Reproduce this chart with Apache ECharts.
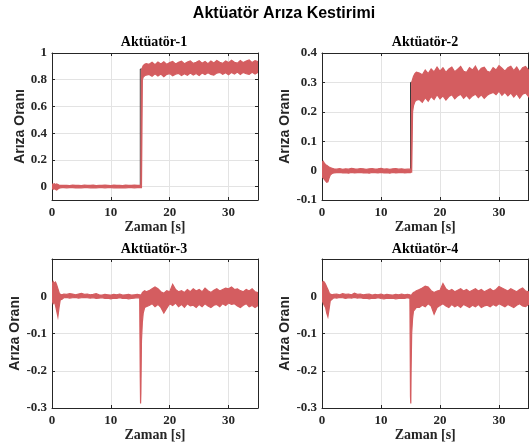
<!DOCTYPE html>
<html>
<head>
<meta charset="utf-8">
<script src="https://cdn.jsdelivr.net/npm/echarts@6/dist/echarts.min.js"></script>
<style>html,body{margin:0;padding:0;background:#fff}#c{width:529px;height:446px}</style>
</head>
<body>
<div id="c"></div>
<script>
// ---------- data ----------
const time = [0,0.2,0.4,0.6,0.8,1,1.2,1.4,1.7,2,2.5,3,3.5,4,4.5,5,5.5,6,6.5,7,7.5,8,8.5,9,9.5,10,10.5,11,11.5,12,12.5,13,13.5,14,14.5,14.9,15,15.05,15.1,15.2,15.35,15.5,15.75,16,16.5,17,17.5,18,18.5,19,19.5,20,20.5,21,21.5,22,22.5,23,23.5,24,24.5,25,25.5,26,26.5,27,27.5,28,28.5,29,29.5,30,30.5,31,31.5,32,32.5,33,33.5,34,34.5,35];

const a1Upper = [0.02,0.018,0.022,0.015,0.02,0.016,0.012,0.01,0.009,
  0.009,0.01,0.008,0.011,0.009,0.01,0.008,0.012,0.009,0.01,0.011,0.008,0.01,0.009,0.012,0.01,0.008,0.011,0.009,0.01,0.008,0.011,0.009,0.01,0.012,0.009,
  0.01,0.01,0.01,0.01,0.87,0.89,0.905,0.915,0.92,
  0.915,0.93,0.912,0.932,0.918,0.935,0.915,0.928,0.936,0.918,0.93,0.938,0.92,0.932,0.94,0.922,0.93,0.942,0.924,0.936,0.92,0.94,0.926,0.944,0.93,0.922,0.94,0.928,0.946,0.93,0.924,0.944,0.928,0.94,0.948,0.928,0.942,0.935];
const a1Lower = [-0.015,-0.02,-0.016,-0.022,-0.025,-0.018,-0.012,-0.009,-0.008,
  -0.008,-0.009,-0.007,-0.008,-0.01,-0.008,-0.009,-0.007,-0.008,-0.009,-0.008,-0.01,-0.007,-0.008,-0.009,-0.008,-0.007,-0.009,-0.008,-0.01,-0.008,-0.009,-0.007,-0.008,-0.009,-0.008,
  -0.008,-0.008,-0.008,-0.008,-0.008,0.80,0.82,0.83,0.835,
  0.84,0.826,0.845,0.828,0.842,0.822,0.84,0.846,0.83,0.842,0.848,0.832,0.845,0.834,0.85,0.835,0.846,0.832,0.85,0.838,0.852,0.84,0.834,0.85,0.855,0.84,0.852,0.838,0.855,0.842,0.858,0.84,0.855,0.845,0.84,0.856,0.842,0.855];

const a2Upper = [0.028,0.032,0.025,0.02,0.018,0.015,0.012,0.01,0.008,
  0.006,0.005,0.007,0.004,0.006,0.005,0.008,0.006,0.005,0.007,0.006,0.004,0.006,0.007,0.005,0.006,0.008,0.005,0.006,0.004,0.006,0.007,0.005,0.006,0.004,0.005,
  0.005,0.005,0.005,0.006,0.30,0.31,0.32,0.33,0.335,
  0.332,0.326,0.342,0.33,0.346,0.336,0.352,0.338,0.35,0.334,0.346,0.352,0.336,0.345,0.354,0.338,0.334,0.35,0.342,0.355,0.336,0.348,0.352,0.338,0.334,0.35,0.342,0.357,0.348,0.338,0.35,0.355,0.34,0.352,0.336,0.35,0.354,0.342];
const a2Lower = [-0.02,-0.025,-0.03,-0.035,-0.04,-0.038,-0.025,-0.015,-0.01,
  -0.008,-0.007,-0.006,-0.008,-0.007,-0.009,-0.006,-0.008,-0.007,-0.006,-0.008,-0.007,-0.009,-0.006,-0.007,-0.008,-0.006,-0.008,-0.007,-0.009,-0.006,-0.008,-0.007,-0.006,-0.008,-0.007,
  -0.007,-0.007,-0.006,-0.005,-0.005,0.20,0.22,0.235,0.24,
  0.242,0.232,0.248,0.236,0.252,0.242,0.258,0.244,0.254,0.24,0.252,0.258,0.244,0.254,0.26,0.246,0.256,0.244,0.254,0.26,0.248,0.258,0.246,0.256,0.262,0.266,0.258,0.27,0.256,0.266,0.254,0.264,0.25,0.262,0.246,0.26,0.264,0.252];

const a3Upper = [0.03,0.04,0.035,0.038,0.03,0.02,0.01,0.005,0.004,
  0.006,0.005,0.007,0.006,0.004,0.006,0.008,0.005,0.006,0.004,0.005,0.007,0.004,0.003,0.005,0.004,0.003,0.005,0.004,0.006,0.003,0.004,0.005,0.003,0.004,0.005,
  0.004,0.004,0.002,0.0,0.005,0.01,0.012,0.015,0.012,
  0.015,0.02,0.025,0.02,0.012,0.008,0.015,0.012,0.032,0.018,0.012,0.015,0.01,0.018,0.012,0.02,0.014,0.018,0.012,0.022,0.015,0.01,0.016,0.02,0.014,0.018,0.022,0.02,0.025,0.018,0.02,0.015,0.012,0.018,0.014,0.02,0.012,0.01];
const a3Lower = [-0.01,-0.02,-0.015,-0.025,-0.04,-0.055,-0.03,-0.01,-0.008,
  -0.004,-0.003,-0.005,-0.004,-0.003,-0.005,-0.004,-0.003,-0.004,-0.005,-0.004,-0.006,-0.005,-0.004,-0.006,-0.005,-0.007,-0.005,-0.006,-0.004,-0.006,-0.005,-0.007,-0.006,-0.005,-0.004,
  -0.005,-0.22,-0.288,-0.26,-0.12,-0.07,-0.045,-0.03,-0.028,
  -0.025,-0.02,-0.028,-0.022,-0.03,-0.045,-0.032,-0.02,-0.025,-0.018,-0.028,-0.022,-0.03,-0.02,-0.026,-0.024,-0.03,-0.022,-0.028,-0.02,-0.026,-0.03,-0.024,-0.022,-0.028,-0.02,-0.025,-0.018,-0.022,-0.02,-0.026,-0.03,-0.024,-0.02,-0.028,-0.025,-0.03,-0.025];

const a4Upper = [0.035,0.04,0.038,0.032,0.025,0.018,0.01,0.006,0.004,
  0.005,0.006,0.004,0.007,0.005,0.006,0.004,0.008,0.005,0.006,0.004,0.005,0.006,0.003,0.005,0.004,0.006,0.003,0.005,0.004,0.003,0.005,0.004,0.006,0.004,0.005,
  0.004,0.003,0.0,0.0,0.004,0.008,0.01,0.012,0.015,
  0.018,0.022,0.027,0.025,0.015,0.01,0.014,0.016,0.034,0.02,0.014,0.018,0.012,0.016,0.02,0.014,0.018,0.012,0.016,0.02,0.014,0.018,0.012,0.016,0.02,0.014,0.018,0.026,0.022,0.018,0.014,0.02,0.016,0.012,0.018,0.022,0.014,0.012];
const a4Lower = [-0.01,-0.018,-0.025,-0.03,-0.045,-0.055,-0.035,-0.012,-0.008,
  -0.004,-0.005,-0.003,-0.004,-0.006,-0.004,-0.005,-0.003,-0.005,-0.004,-0.006,-0.005,-0.007,-0.005,-0.006,-0.004,-0.006,-0.007,-0.005,-0.006,-0.005,-0.007,-0.006,-0.005,-0.006,-0.004,
  -0.006,-0.27,-0.288,-0.2,-0.1,-0.06,-0.04,-0.035,-0.03,
  -0.03,-0.024,-0.028,-0.02,-0.026,-0.048,-0.03,-0.025,-0.02,-0.026,-0.03,-0.022,-0.028,-0.024,-0.03,-0.022,-0.026,-0.03,-0.024,-0.028,-0.022,-0.03,-0.026,-0.024,-0.028,-0.022,-0.026,-0.02,-0.024,-0.028,-0.022,-0.026,-0.03,-0.024,-0.02,-0.026,-0.028,-0.022];

// actual fault (reference) signals
const faultTime = [0, 15, 15, 35];
const fault1 = [0, 0, 0.88, 0.88];
const fault2 = [0, 0, 0.3, 0.3];
const fault3 = [0, 0, 0, 0];
const fault4 = [0, 0, 0, 0];

const titles = ['Aktüatör-1', 'Aktüatör-2', 'Aktüatör-3', 'Aktüatör-4'];
const mainTitle = 'Aktüatör Arıza Kestirimi';
const xName = 'Zaman [s]';
const yName = 'Arıza Oranı';

// ---------- chart ----------
const RED = '#d45d60';
const AX = '#262626';
const SERIF = 'Liberation Serif';
const SANS = 'Liberation Sans';

const grids = [
  {left: 52, top: 53, width: 206, height: 147},
  {left: 322, top: 53, width: 206.5, height: 147},
  {left: 52, top: 259, width: 206, height: 149},
  {left: 322, top: 259, width: 206.5, height: 149}
];
const yRanges = [
  {min: -0.1, max: 1, minInterval: 0.2, maxInterval: 0.2, showMinLabel: false},
  {min: -0.1, max: 0.4, interval: 0.1},
  {min: -0.3, max: 0.1, interval: 0.1, showMaxLabel: false},
  {min: -0.3, max: 0.1, interval: 0.1, showMaxLabel: false}
];
const yNameGaps = [22, 27, 25, 27];
const uppers = [a1Upper, a2Upper, a3Upper, a4Upper];
const lowers = [a1Lower, a2Lower, a3Lower, a4Lower];
const faults = [fault1, fault2, fault3, fault4];
const titlePos = [[154, 35], [425, 35], [154, 242], [425, 242]];

const xAxes = [], yAxes = [], series = [];
const tickStyle = {show: true, inside: true, length: 3, lineStyle: {color: AX, width: 1}};
const lineStyleAx = {show: true, onZero: false, lineStyle: {color: AX, width: 1}};
const labelStyle = {fontFamily: SERIF, fontWeight: 'bold', fontSize: 13, color: AX};

for (let k = 0; k < 4; k++) {
  xAxes.push({
    type: 'value', gridIndex: k, position: 'bottom', min: 0, max: 35, interval: 10,
    axisLine: lineStyleAx, axisTick: tickStyle,
    axisLabel: Object.assign({margin: 6, showMaxLabel: false}, labelStyle),
    splitLine: {show: true, lineStyle: {color: '#e3e3e3', width: 1}},
    name: xName, nameLocation: 'middle', nameGap: 20,
    nameTextStyle: {fontFamily: SERIF, fontWeight: 'bold', fontSize: 14, color: AX}
  });
  const yr = yRanges[k];
  yAxes.push({
    type: 'value', gridIndex: k, position: 'left', min: yr.min, max: yr.max,
    interval: yr.interval, minInterval: yr.minInterval, maxInterval: yr.maxInterval,
    axisLine: lineStyleAx, axisTick: tickStyle,
    axisLabel: Object.assign({margin: 5, showMinLabel: yr.showMinLabel !== false, showMaxLabel: yr.showMaxLabel !== false}, labelStyle),
    splitLine: {show: true, lineStyle: {color: '#e3e3e3', width: 1}},
    name: yName, nameLocation: 'middle', nameGap: yNameGaps[k],
    nameTextStyle: {fontFamily: SANS, fontWeight: 'bold', fontSize: 14, color: AX}
  });
}
// box: top and right axes
for (let k = 0; k < 4; k++) {
  xAxes.push({
    type: 'value', gridIndex: k, position: 'top', min: 0, max: 35, interval: 10,
    axisLine: lineStyleAx, axisTick: tickStyle, axisLabel: {show: false}, splitLine: {show: false}
  });
  const yr = yRanges[k];
  yAxes.push({
    type: 'value', gridIndex: k, position: 'right', min: yr.min, max: yr.max,
    interval: yr.interval, minInterval: yr.minInterval, maxInterval: yr.maxInterval,
    axisLine: lineStyleAx, axisTick: tickStyle, axisLabel: {show: false}, splitLine: {show: false}
  });
}

for (let k = 0; k < 4; k++) {
  const f = faults[k];
  series.push({
    type: 'line', xAxisIndex: k, yAxisIndex: k, z: 1,
    data: faultTime.map((t, i) => [t, f[i]]),
    showSymbol: false, symbol: 'none', silent: true,
    lineStyle: {color: '#3a3a3a', width: 1}
  });
  const hi = uppers[k], lo = lowers[k];
  series.push({
    type: 'custom', coordinateSystem: 'cartesian2d', xAxisIndex: k, yAxisIndex: k, z: 2,
    clip: true, silent: true,
    data: time.map((t, i) => [t, lo[i], hi[i]]),
    encode: {x: 0, y: [1, 2]},
    renderItem: function (params, api) {
      if (params.dataIndex !== 0) return null;
      const pts = [];
      for (let i = 0; i < time.length; i++) pts.push(api.coord([time[i], hi[i]]));
      for (let i = time.length - 1; i >= 0; i--) pts.push(api.coord([time[i], lo[i]]));
      return {type: 'polygon', shape: {points: pts},
        style: {fill: RED, stroke: RED, lineWidth: 1.2, lineJoin: 'miter'}};
    }
  });
}

const titleList = [{
  text: mainTitle, left: 284, top: 6, textAlign: 'center', padding: 0,
  textStyle: {fontFamily: SANS, fontWeight: 'bold', fontSize: 16, color: '#000'}
}];
for (let k = 0; k < 4; k++) {
  titleList.push({
    text: titles[k], left: titlePos[k][0], top: titlePos[k][1], textAlign: 'center', padding: 0,
    textStyle: {fontFamily: SERIF, fontWeight: 'bold', fontSize: 14, color: '#000'}
  });
}

const chart = echarts.init(document.getElementById('c'), null, {renderer: 'canvas'});
chart.setOption({
  animation: false,
  backgroundColor: '#fff',
  title: titleList,
  grid: grids,
  xAxis: xAxes,
  yAxis: yAxes,
  series: series
});
</script>
</body>
</html>
